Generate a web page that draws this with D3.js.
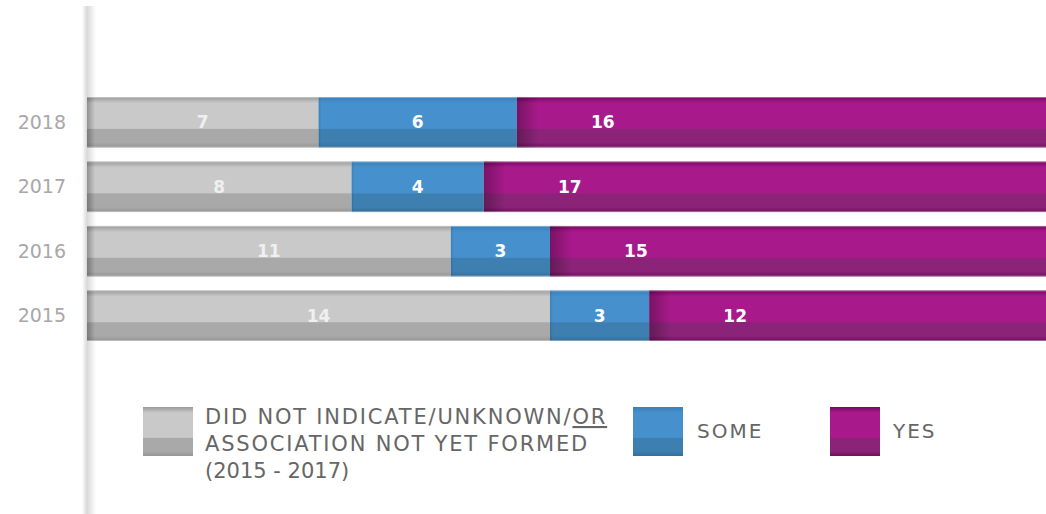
<!DOCTYPE html>
<html>
<head>
<meta charset="utf-8">
<script src="https://cdn.jsdelivr.net/npm/d3@7"></script>
<style>
  body { margin: 0; background: #fff; }
  svg { display: block; }
</style>
</head>
<body>
<div id="chart"></div>
<script>
// data
var years = ["2018", "2017", "2016", "2015"];
var unknownVals = [7, 8, 11, 14];
var someVals = [6, 4, 3, 3];
var yesVals = [16, 17, 15, 12];
var seriesNames = ["unknown", "some", "yes"];
var legendLines = ["DID NOT INDICATE/UNKNOWN/", "ASSOCIATION NOT YET FORMED", "(2015 - 2017)"];

var W = 1046, H = 514;

var svg = d3.select("#chart")
    .append("svg")
    .attr("width", W)
    .attr("height", H);

var defs = svg.append("defs");

// two tone fills, light upper part and darker lower part
var colours = {
    unknown: { edge: "#9a9a9a", top: "#c9c9c9", bottom: "#a9a9a9", low: "#959595" },
    some: { edge: "#3a80b8", top: "#4590cd", bottom: "#3d7fb1", low: "#356f9c" },
    yes: { edge: "#7a0864", top: "#a81a8c", bottom: "#8b2479", low: "#700f5e" }
};
seriesNames.forEach(function (k) {
    var c = colours[k];
    var g = defs.append("linearGradient")
        .attr("id", "g_" + k)
        .attr("x1", 0).attr("y1", 0).attr("x2", 0).attr("y2", 1);
    [[0, c.edge], [0.12, c.top], [0.62, c.top], [0.64, c.bottom], [0.9, c.bottom], [1, c.low]]
        .forEach(function (s) {
            g.append("stop").attr("offset", s[0]).attr("stop-color", s[1]);
        });
});
var sh = defs.append("linearGradient")
    .attr("id", "leftShade")
    .attr("x1", 0).attr("y1", 0).attr("x2", 1).attr("y2", 0);
sh.append("stop").attr("offset", 0).attr("stop-color", "#000").attr("stop-opacity", 0.28);
sh.append("stop").attr("offset", 1).attr("stop-color", "#000").attr("stop-opacity", 0);

var vline = defs.append("linearGradient")
    .attr("id", "vline")
    .attr("x1", 0).attr("y1", 0).attr("x2", 1).attr("y2", 0);
vline.append("stop").attr("offset", 0).attr("stop-color", "#fff");
vline.append("stop").attr("offset", 0.35).attr("stop-color", "#d9d9d9");
vline.append("stop").attr("offset", 1).attr("stop-color", "#fff");

// faint vertical rule behind the bars
svg.append("rect")
    .attr("x", 82).attr("y", 6)
    .attr("width", 14).attr("height", H - 6)
    .attr("fill", "url(#vline)");

var x = d3.scaleLinear().domain([0, 29]).range([87, 1046]);
var y = d3.scaleBand().domain(years).range([97, 341]).paddingInner(0.215);

var rows = years.map(function (yr, i) {
    return { year: yr, unknown: unknownVals[i], some: someVals[i], yes: yesVals[i] };
});
var stacked = d3.stack().keys(seriesNames)(rows);

var layer = svg.selectAll("g.layer")
    .data(stacked)
    .enter()
    .append("g")
    .attr("class", "layer");

function segs(d) { return d.map(function (p) { return { key: d.key, p: p }; }); }

layer.selectAll("rect.seg")
    .data(segs)
    .enter()
    .append("rect")
    .attr("class", "seg")
    .attr("x", function (d) { return x(d.p[0]); })
    .attr("y", function (d) { return y(d.p.data.year); })
    .attr("width", function (d) { return x(d.p[1]) - x(d.p[0]); })
    .attr("height", y.bandwidth())
    .attr("fill", function (d) { return "url(#g_" + d.key + ")"; });

// shading at the left end of each segment
layer.selectAll("rect.shade")
    .data(segs)
    .enter()
    .append("rect")
    .attr("class", "shade")
    .attr("x", function (d) { return x(d.p[0]); })
    .attr("y", function (d) { return y(d.p.data.year); })
    .attr("width", function (d) { return d.key == "yes" ? 22 : (d.key == "unknown" ? 8 : 3); })
    .attr("height", y.bandwidth())
    .attr("fill", "url(#leftShade)")
    .attr("opacity", function (d) { return d.key == "some" ? 0.4 : 1; });

// thin light rims top and bottom
years.forEach(function (yr) {
    [y(yr), y(yr) + y.bandwidth() - 1].forEach(function (yy) {
        svg.append("rect")
            .attr("x", x(0)).attr("y", yy)
            .attr("width", x(29) - x(0)).attr("height", 1)
            .attr("fill", "#fff").attr("opacity", 0.35);
    });
});

// value labels
layer.selectAll("text")
    .data(segs)
    .enter()
    .append("text")
    .attr("x", function (d) {
        if (d.key == "yes") return x(d.p[0] + 2.6);
        return x((d.p[0] + d.p[1]) / 2);
    })
    .attr("y", function (d) { return y(d.p.data.year) + y.bandwidth() * 0.5 + 6; })
    .attr("text-anchor", "middle")
    .attr("font-family", "DejaVu Sans, sans-serif")
    .attr("font-weight", "bold")
    .attr("font-size", 17)
    .attr("fill", function (d) { return d.key == "unknown" ? "#f0f0f0" : "#fff"; })
    .text(function (d) { return d.p[1] - d.p[0]; });

// year axis
var yAxis = svg.append("g")
    .attr("transform", "translate(66,0)")
    .call(d3.axisLeft(y).tickSize(0).tickPadding(0));
yAxis.select(".domain").remove();
yAxis.selectAll("text")
    .attr("font-family", "DejaVu Sans, sans-serif")
    .attr("font-size", 19)
    .attr("fill", "#a8a8a8")
    .attr("dy", "0.35em");

// legend
var leg = svg.append("g")
    .attr("font-family", "DejaVu Sans, sans-serif")
    .attr("font-size", 21)
    .attr("letter-spacing", 1.8)
    .attr("fill", "#666");
var swatchX = [143, 633, 830];
seriesNames.forEach(function (k, i) {
    leg.append("rect")
        .attr("x", swatchX[i]).attr("y", 407)
        .attr("width", 50).attr("height", 49)
        .attr("fill", "url(#g_" + k + ")");
});
var first = leg.append("text").attr("x", 205).attr("y", 424);
first.append("tspan").text(legendLines[0]);
first.append("tspan").attr("text-decoration", "underline").text("OR");
leg.append("text").attr("x", 205).attr("y", 451).text(legendLines[1]);
leg.append("text").attr("x", 205).attr("y", 478).attr("letter-spacing", 0).text(legendLines[2]);
leg.append("text").attr("x", 697).attr("y", 438).attr("font-size", 20).attr("letter-spacing", 2).text("SOME");
leg.append("text").attr("x", 893).attr("y", 438).attr("font-size", 20).attr("letter-spacing", 2).text("YES");
</script>
</body>
</html>
